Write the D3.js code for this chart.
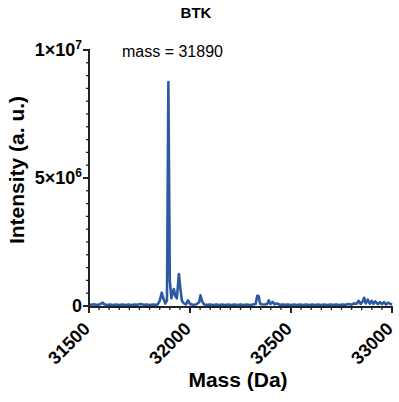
<!DOCTYPE html>
<html><head><meta charset="utf-8">
<script src="https://cdn.jsdelivr.net/npm/d3@7"></script>
<style>body{margin:0;background:#fff}svg{display:block;font-family:"Liberation Sans",Arial,sans-serif}</style>
</head><body>
<script>
const title = "BTK";
const annotation = "mass = 31890";
const xLabel = "Mass (Da)";
const yLabel = "Intensity (a. u.)";
const xTicks = [31500, 32000, 32500, 33000];
const yTicks = [0, 5e6, 1e7];
const yTickMant = ["0", "5", "1"];
const yTickExp = ["", "6", "7"];
const masses = [31500,31512,31525,31537,31550,31560,31567,31575,31590,31605,31620,31635,31650,31665,31680,31695,31710,31725,31740,31755,31770,31785,31800,31815,31828,31840,31850,31860,31868,31878,31886,31893,31900,31908,31914,31920,31927,31935,31945,31952,31960,31970,31980,31990,32000,32015,32030,32045,32052,32060,32070,32085,32100,32115,32130,32145,32160,32175,32190,32205,32220,32235,32250,32265,32280,32295,32310,32325,32333,32340,32347,32355,32370,32382,32390,32398,32410,32418,32430,32445,32460,32470,32485,32500,32515,32530,32545,32560,32575,32590,32605,32620,32635,32650,32665,32680,32695,32710,32725,32740,32755,32770,32785,32800,32812,32825,32835,32845,32855,32862,32870,32880,32890,32900,32908,32917,32930,32940,32950,32960,32970,32980,32990,33000];
const intensity = [60000,50000,70000,40000,60000,90000,130000,70000,40000,60000,40000,55000,40000,60000,40000,55000,40000,60000,45000,80000,45000,55000,40000,60000,45000,60000,200000,520000,300000,100000,220000,8750000,1000000,300000,500000,660000,400000,300000,1250000,700000,200000,100000,60000,220000,80000,50000,60000,150000,420000,180000,60000,45000,60000,40000,55000,40000,60000,40000,55000,40000,60000,40000,55000,40000,60000,40000,55000,80000,400000,380000,90000,70000,60000,80000,220000,80000,160000,70000,100000,50000,60000,45000,55000,40000,60000,40000,55000,40000,60000,40000,55000,40000,60000,40000,55000,40000,60000,45000,55000,40000,60000,45000,80000,50000,100000,90000,200000,80000,180000,320000,100000,250000,90000,200000,80000,180000,70000,150000,80000,150000,60000,130000,90000,50000];

const W = 399, H = 402;
const m = {left: 89, right: 392, top: 50, bottom: 306};
const svg = d3.select("body").append("svg").attr("width", W).attr("height", H);
const x = d3.scaleLinear().domain([31500, 33000]).range([m.left, m.right]);
const y = d3.scaleLinear().domain([0, 1e7]).range([m.bottom, m.top]);

// title
svg.append("text").attr("x", 196).attr("y", 18).attr("text-anchor", "middle")
  .attr("font-size", 15).attr("font-weight", "bold").text(title);
svg.append("text").attr("x", 122).attr("y", 57).attr("font-size", 16).text(annotation);

// line
const line = d3.line().x((d, i) => x(masses[i])).y(d => y(d));
svg.append("path").datum(intensity).attr("d", line).attr("fill", "none")
  .attr("stroke", "#2b5aa3").attr("stroke-width", 2.6).attr("stroke-linejoin", "round");

// y axis
const ya = svg.append("g");
ya.append("line").attr("x1", m.left).attr("x2", m.left).attr("y1", y(1e7) - 1).attr("y2", m.bottom + 1)
  .attr("stroke", "#222").attr("stroke-width", 2);
const yMinor = d3.range(0, 1e7 + 1, 5e5);
ya.selectAll(".ym").data(yMinor).join("line")
  .attr("x1", m.left - 3).attr("x2", m.left).attr("y1", d => y(d)).attr("y2", d => y(d))
  .attr("stroke", "#222").attr("stroke-width", 1.3);
ya.selectAll(".yM").data(yTicks).join("line")
  .attr("x1", m.left - 6).attr("x2", m.left).attr("y1", d => y(d)).attr("y2", d => y(d))
  .attr("stroke", "#222").attr("stroke-width", 2);
const yl = ya.selectAll(".yl").data(yTicks).join("text")
  .attr("x", m.left - 7).attr("y", d => y(d) + 6).attr("text-anchor", "end")
  .attr("font-size", 18).attr("font-weight", "bold");
yl.each(function(d, i) {
  const t = d3.select(this);
  if (yTickExp[i] === "") { t.text(yTickMant[i]); return; }
  t.append("tspan").text(yTickMant[i] + "×10");
  t.append("tspan").attr("dy", -7).attr("font-size", 12).text(yTickExp[i]);
});

// x axis
const xa = svg.append("g");
xa.append("line").attr("x1", m.left - 1).attr("x2", m.right + 1).attr("y1", m.bottom + 1).attr("y2", m.bottom + 1)
  .attr("stroke", "#222").attr("stroke-width", 2);
const xMinor = d3.range(31500, 33001, 50);
xa.selectAll(".xm").data(xMinor).join("line")
  .attr("x1", d => x(d)).attr("x2", d => x(d)).attr("y1", m.bottom + 1).attr("y2", m.bottom + 4)
  .attr("stroke", "#222").attr("stroke-width", 1.3);
xa.selectAll(".xM").data(xTicks).join("line")
  .attr("x1", d => x(d)).attr("x2", d => x(d)).attr("y1", m.bottom + 1).attr("y2", m.bottom + 7)
  .attr("stroke", "#222").attr("stroke-width", 2);
xa.selectAll(".xl").data(xTicks).join("text")
  .attr("transform", d => `translate(${x(d) + 2},${m.bottom + 24}) rotate(-45)`)
  .attr("text-anchor", "end").attr("font-size", 18).attr("font-weight", "bold")
  .text(d => d);

// axis labels
svg.append("text").attr("transform", `translate(24,170) rotate(-90)`).attr("text-anchor", "middle")
  .attr("font-size", 21).attr("font-weight", "bold").text(yLabel);
svg.append("text").attr("x", 238).attr("y", 387).attr("text-anchor", "middle")
  .attr("font-size", 21).attr("font-weight", "bold").text(xLabel);
</script>
</body></html>
